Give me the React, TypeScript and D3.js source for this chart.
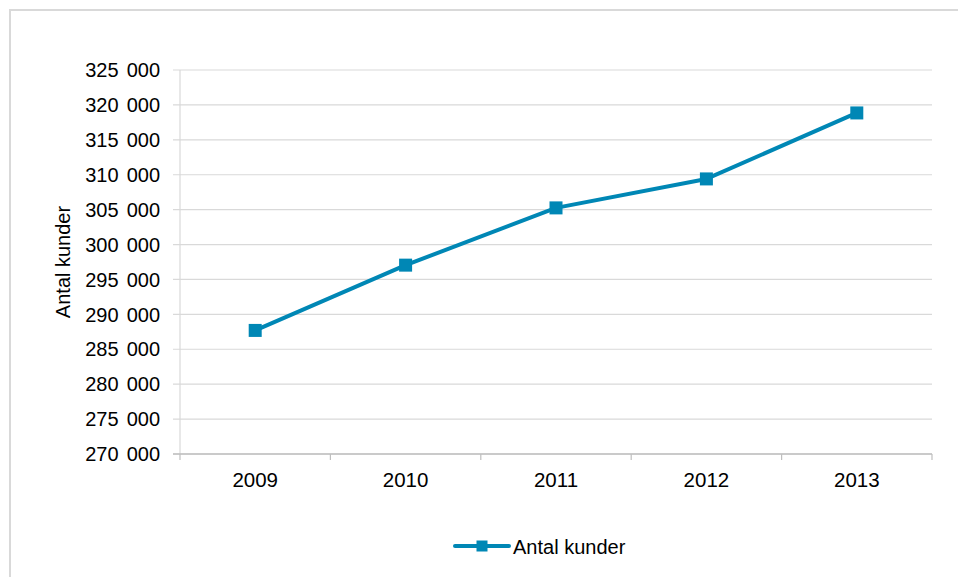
import React from "react";
import * as d3 from "d3";

// Customers per year
const years: string[] = ["2009", "2010", "2011", "2012", "2013"];
const customers: number[] = [287700, 297050, 305250, 309400, 318850];
const yTicks: number[] = [270000, 275000, 280000, 285000, 290000, 295000, 300000, 305000, 310000, 315000, 320000, 325000];
const seriesName = "Antal kunder";
const axisTitle = "Antal kunder";

const W = 958;
const H = 577;
const plot = { left: 180, right: 932, top: 70, bottom: 454 };
const BLUE = "#0087b5";
const FONT = "'Liberation Sans', Arial, sans-serif";

const fmt = d3.formatLocale({ decimal: ",", thousands: " ", grouping: [3], currency: ["", ""] }).format(",");

export default function App() {
  const x = d3.scaleBand<string>().domain(years).range([plot.left, plot.right]).paddingInner(0).paddingOuter(0);
  const y = d3.scaleLinear().domain([270000, 325000]).range([plot.bottom, plot.top]);
  const cx = (d: string) => (x(d) as number) + x.bandwidth() / 2;

  const line = d3
    .line<number>()
    .x((_, i) => cx(years[i]))
    .y((v) => y(v));

  const boundaries = years.map((d) => x(d) as number).concat([plot.right]);
  const ms = 13;

  return (
    <svg
      width={W}
      height={H}
      style={{ position: "absolute", left: 0, top: 0, display: "block", background: "#fff" }}
    >
      {/* chart frame */}
      <path d={`M10,${H + 5}V10H${W + 5}`} fill="none" stroke="#d9d9d9" strokeWidth={2} />

      {/* gridlines */}
      {yTicks.map((t) => (
        <line key={t} x1={plot.left - 7} x2={plot.right} y1={y(t)} y2={y(t)} stroke="#d9d9d9" strokeWidth={1.2} />
      ))}

      {/* axes */}
      <line x1={plot.left} x2={plot.left} y1={plot.top} y2={plot.bottom} stroke="#d9d9d9" strokeWidth={1.2} />
      <line x1={plot.left - 7} x2={plot.right} y1={plot.bottom} y2={plot.bottom} stroke="#bfbfbf" strokeWidth={1.5} />
      {boundaries.map((b, i) => (
        <line key={i} x1={b} x2={b} y1={plot.bottom} y2={plot.bottom + 6} stroke="#bfbfbf" strokeWidth={1.2} />
      ))}

      {/* y tick labels */}
      {yTicks.map((t) => (
        <text
          key={t}
          x={160}
          y={y(t)}
          dy="0.36em"
          textAnchor="end"
          fontFamily={FONT}
          fontSize={20}
          wordSpacing={2.5}
          fill="#000"
        >
          {fmt(t)}
        </text>
      ))}

      {/* x tick labels */}
      {years.map((d) => (
        <text key={d} x={cx(d)} y={487} textAnchor="middle" fontFamily={FONT} fontSize={20.5} fill="#000">
          {d}
        </text>
      ))}

      {/* y axis title */}
      <text
        transform={`translate(70, ${(plot.top + plot.bottom) / 2}) rotate(-90)`}
        textAnchor="middle"
        fontFamily={FONT}
        fontSize={20}
        fill="#000"
      >
        {axisTitle}
      </text>

      {/* series */}
      <path d={line(customers) as string} fill="none" stroke={BLUE} strokeWidth={4} strokeLinejoin="round" />
      {customers.map((v, i) => (
        <rect key={i} x={cx(years[i]) - ms / 2} y={y(v) - ms / 2} width={ms} height={ms} fill={BLUE} />
      ))}

      {/* legend */}
      <g>
        <line x1={455} x2={509} y1={546} y2={546} stroke={BLUE} strokeWidth={4} strokeLinecap="round" />
        <rect x={482 - 5.5} y={546 - 5.5} width={11} height={11} fill={BLUE} />
        <text x={513} y={553.5} fontFamily={FONT} fontSize={20} fill="#000">
          {seriesName}
        </text>
      </g>
    </svg>
  );
}
